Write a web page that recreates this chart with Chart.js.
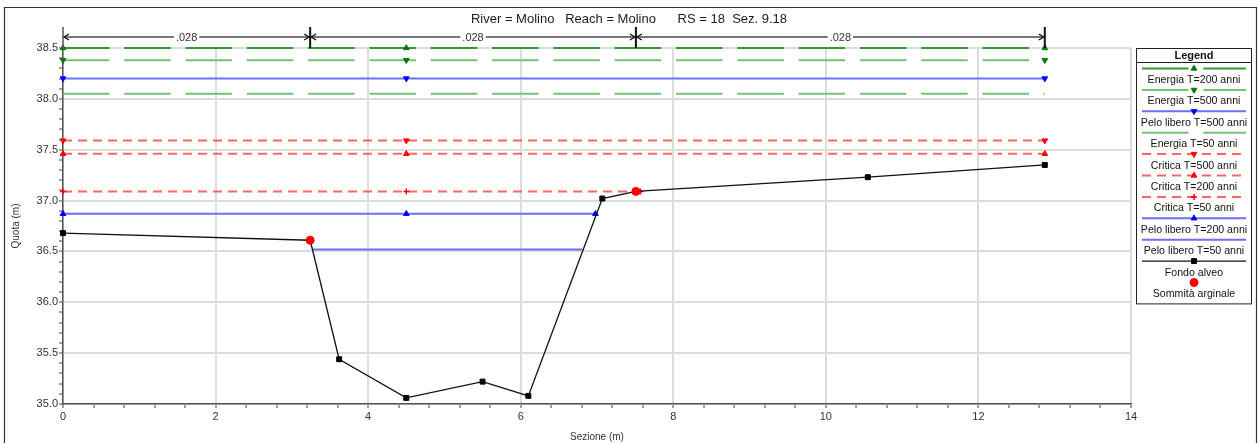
<!DOCTYPE html>
<html><head><meta charset="utf-8">
<script src="https://cdn.jsdelivr.net/npm/chart.js@4/dist/chart.umd.min.js"></script>
<style>html,body{margin:0;padding:0;background:#fff;overflow:hidden}canvas{display:block}</style>
</head><body>
<canvas id="c" width="1258" height="443" style="width:1258px;height:443px"></canvas>
<script>
// ---------- DATA ----------
const chartTitle = 'River = Molino   Reach = Molino      RS = 18  Sez. 9.18';
const xTitle = 'Sezione (m)';
const yTitle = 'Quota (m)';

// Fondo alveo (ground profile)
const groundX = [0, 3.24, 3.62, 4.50, 5.50, 6.10, 7.07, 7.51, 10.55, 12.87];
const groundY = [36.68, 36.61, 35.44, 35.06, 35.22, 35.08, 37.02, 37.09, 37.23, 37.35];
// Sommità arginale (bank tops)
const bankX = [3.24, 7.51];
const bankY = [36.61, 37.09];

// Water surface / energy lines (legend order)
const surfaceNames = ['Energia T=200 anni', 'Energia T=500 anni', 'Pelo libero T=500 anni', 'Energia T=50 anni',
  'Critica T=500 anni', 'Critica T=200 anni', 'Critica T=50 anni', 'Pelo libero T=200 anni', 'Pelo libero T=50 anni'];
const surfaceLevels = [38.50, 38.38, 38.20, 38.05, 37.59, 37.46, 37.09, 36.87, 36.52];
const surfaceStart  = [0, 0, 0, 0, 0, 0, 0, 0, 3.27];
const surfaceMid    = [4.5, 4.5, 4.5, 4.5, 4.5, 4.5, 4.5, 4.5, 4.5];
const surfaceEnd    = [12.87, 12.87, 12.87, 12.87, 12.87, 12.87, 7.57, 6.98, 6.81];

// Manning n values
const nBreaks = [0, 3.24, 7.51, 12.87];
const nValues = ['.028', '.028', '.028'];

// Axes
const xRange = [0, 14], xMinorStep = 0.4, xMajorStep = 2;
const yRange = [35, 38.5], yMinorStep = 0.1, yMajorStep = 0.5;

// ---------- STYLES ----------
const FONT = '"Liberation Sans", Arial, sans-serif';
Chart.defaults.font.family = FONT;
const DASH_E = [46.5, 14.8], DASH_C = [9, 6];
const surfaceStyles = [
  {line: '#2f9a2f', dash: DASH_E, ps: 'triangle', rot: 0,   pc: '#007a00', r: 3.3},
  {line: '#74c274', dash: DASH_E, ps: 'triangle', rot: 180, pc: '#007a00', r: 3.3},
  {line: '#6e6eff', dash: [],     ps: 'triangle', rot: 180, pc: '#0000ff', r: 3.3},
  {line: '#74c274', dash: DASH_E, ps: 'circle',   rot: 0,   pc: '#74c274', r: 0},
  {line: 'rgba(255,50,50,0.75)', dash: DASH_C, ps: 'triangle', rot: 180, pc: '#ff0000', r: 3.3},
  {line: 'rgba(255,50,50,0.75)', dash: DASH_C, ps: 'triangle', rot: 0,   pc: '#ff0000', r: 3.3},
  {line: 'rgba(255,50,50,0.75)', dash: DASH_C, ps: 'cross',    rot: 0,   pc: '#ff0000', r: 3},
  {line: '#6e6eff', dash: [],     ps: 'triangle', rot: 0,   pc: '#0000ff', r: 3.3},
  {line: '#6e6eff', dash: [],     ps: 'circle',   rot: 0,   pc: '#6e6eff', r: 0},
];

const datasets = surfaceNames.map((name, i) => {
  const s = surfaceStyles[i];
  const lv = surfaceLevels[i];
  const pts = [surfaceStart[i], surfaceMid[i], surfaceEnd[i]]
    .filter(v => v >= surfaceStart[i] && v <= surfaceEnd[i])
    .map(x => ({x: x, y: lv}));
  return {
    label: name, data: pts, borderColor: s.line, borderDash: s.dash, borderWidth: 2,
    pointStyle: s.ps, pointRotation: s.rot, pointRadius: s.r,
    pointBackgroundColor: s.pc, pointBorderColor: s.pc, pointBorderWidth: s.ps === 'cross' ? 1.5 : 1,
    tension: 0, fill: false, clip: false, order: 0
  };
});
datasets.push({
  label: 'Fondo alveo', data: groundX.map((x, i) => ({x: x, y: groundY[i]})),
  borderColor: '#111', borderWidth: 1.3, pointStyle: 'rect', pointRadius: 3.5,
  pointBackgroundColor: '#000', pointBorderColor: '#000', pointBorderWidth: 1,
  tension: 0, fill: false, clip: false, order: -1
});
datasets.push({
  label: 'Sommità arginale', data: bankX.map((x, i) => ({x: x, y: bankY[i]})),
  showLine: false, borderColor: '#ff0000', pointStyle: 'circle', pointRadius: 4,
  pointBackgroundColor: '#ff0000', pointBorderColor: '#ff0000', pointBorderWidth: 1,
  clip: false, order: -2
});

const isMult = (v, m) => v != null && Math.abs(v / m - Math.round(v / m)) < 1e-6;

function drawMarker(ctx, ps, r, rot, x, y, color, bw) {
  if (!r) return;
  ctx.save();
  ctx.fillStyle = color; ctx.strokeStyle = color; ctx.lineWidth = bw || 1; ctx.setLineDash([]);
  ctx.beginPath();
  if (ps === 'triangle') {
    let rad = rot * Math.PI / 180;
    ctx.moveTo(x + Math.sin(rad) * r, y - Math.cos(rad) * r);
    rad += 2 * Math.PI / 3; ctx.lineTo(x + Math.sin(rad) * r, y - Math.cos(rad) * r);
    rad += 2 * Math.PI / 3; ctx.lineTo(x + Math.sin(rad) * r, y - Math.cos(rad) * r);
    ctx.closePath(); ctx.fill(); ctx.stroke();
  } else if (ps === 'rect') {
    const s = r * Math.SQRT1_2; ctx.rect(x - s, y - s, 2 * s, 2 * s); ctx.fill(); ctx.stroke();
  } else if (ps === 'cross') {
    ctx.moveTo(x - r, y); ctx.lineTo(x + r, y); ctx.moveTo(x, y - r); ctx.lineTo(x, y + r); ctx.stroke();
  } else {
    ctx.arc(x, y, r, 0, Math.PI * 2); ctx.fill(); ctx.stroke();
  }
  ctx.restore();
}

const decor = {
  id: 'decor',
  beforeDraw(chart) {
    const ctx = chart.ctx;
    ctx.save(); ctx.fillStyle = '#fff'; ctx.fillRect(0, 0, chart.width, chart.height); ctx.restore();
  },
  afterDraw(chart) {
    const ctx = chart.ctx, a = chart.chartArea, xs = chart.scales.x;
    ctx.save();
    // outer frame
    ctx.strokeStyle = '#333'; ctx.lineWidth = 1.2; ctx.setLineDash([]);
    ctx.beginPath(); ctx.moveTo(4.5, chart.height + 5); ctx.lineTo(4.5, 7.5);
    ctx.lineTo(chart.width - 1.5, 7.5); ctx.lineTo(chart.width - 1.5, chart.height + 5); ctx.stroke();
    // title
    ctx.fillStyle = '#1a1a1a'; ctx.font = '13px ' + FONT; ctx.textAlign = 'center'; ctx.textBaseline = 'middle';
    ctx.fillText(chartTitle, chart.width / 2, 19.5);

    // Manning n annotation
    const yA = a.top - 11, yT = a.top - 21;
    ctx.font = '11px ' + FONT;
    for (let i = 0; i < nValues.length; i++) {
      const p0 = xs.getPixelForValue(nBreaks[i]), p1 = xs.getPixelForValue(nBreaks[i + 1]);
      ctx.strokeStyle = '#777'; ctx.lineWidth = 2;
      ctx.beginPath(); ctx.moveTo(p0, yA); ctx.lineTo(p1, yA); ctx.stroke();
      ctx.strokeStyle = '#111'; ctx.lineWidth = 1.3;
      ctx.beginPath();
      ctx.moveTo(p0 + 6, yA - 3); ctx.lineTo(p0 + 1, yA); ctx.lineTo(p0 + 6, yA + 3);
      ctx.moveTo(p1 - 6, yA - 3); ctx.lineTo(p1 - 1, yA); ctx.lineTo(p1 - 6, yA + 3);
      ctx.stroke();
      const mid = (p0 + p1) / 2, w = ctx.measureText(nValues[i]).width;
      ctx.fillStyle = '#fff'; ctx.fillRect(mid - w / 2 - 2, yA - 6, w + 4, 12);
      ctx.fillStyle = '#333'; ctx.fillText(nValues[i], mid, yA + 0.5);
    }
    nBreaks.forEach((b, i) => {
      const p = xs.getPixelForValue(b);
      ctx.strokeStyle = i === 0 ? '#555' : '#111'; ctx.lineWidth = i === 0 ? 1.5 : 2;
      ctx.beginPath(); ctx.moveTo(p, yT); ctx.lineTo(p, a.top); ctx.stroke();
    });

    // Legend
    const L = a.right + 5, R = chart.width - 6, T = a.top, rowH = 21.4;
    const B = T + 14 + rowH * chart.data.datasets.length + 7;
    ctx.fillStyle = '#fff'; ctx.fillRect(L, T, R - L, B - T);
    ctx.strokeStyle = '#222'; ctx.lineWidth = 1;
    ctx.strokeRect(L + 0.5, T + 0.5, R - L - 1, B - T - 1);
    ctx.beginPath(); ctx.moveTo(L, T + 14.5); ctx.lineTo(R, T + 14.5); ctx.stroke();
    const cx = (L + R) / 2;
    ctx.fillStyle = '#111'; ctx.font = 'bold 11px ' + FONT;
    ctx.fillText('Legend', cx, T + 7.5);
    ctx.font = '10.6px ' + FONT;
    chart.data.datasets.forEach((d, i) => {
      const ys = T + 20.5 + i * rowH, yl = T + 32 + i * rowH;
      if (d.showLine !== false) {
        ctx.save();
        ctx.strokeStyle = d.borderColor; ctx.lineWidth = d.borderWidth || 1;
        ctx.setLineDash(d.borderDash || []);
        ctx.beginPath(); ctx.moveTo(L + 6, ys); ctx.lineTo(R - 6, ys); ctx.stroke();
        ctx.restore();
      }
      drawMarker(ctx, d.pointStyle, d.pointRadius, d.pointRotation || 0, cx, ys, d.pointBackgroundColor, d.pointBorderWidth);
      ctx.fillStyle = '#111';
      ctx.fillText(d.label, cx, yl);
    });
    ctx.restore();
  }
};

const tickFont = {size: 11, family: FONT};
new Chart(document.getElementById('c'), {
  type: 'line',
  data: {datasets: datasets},
  options: {
    responsive: false, devicePixelRatio: 1, animation: false, events: [],
    layout: {padding: {top: 48, right: 127, left: 0, bottom: 0}},
    plugins: {legend: {display: false}, tooltip: {enabled: false}, title: {display: false}},
    scales: {
      x: {
        type: 'linear', min: xRange[0], max: xRange[1],
        ticks: {stepSize: xMinorStep, autoSkip: false, maxRotation: 0, minRotation: 0, color: '#333', font: tickFont, padding: 2,
          callback: v => isMult(v, xMajorStep) ? String(Math.round(v)) : ''},
        grid: {color: c => (c.tick && isMult(c.tick.value, xMajorStep)) ? '#dcdcdc' : 'rgba(0,0,0,0)',
          lineWidth: 2, tickColor: '#444', tickWidth: 1, tickLength: 4, drawTicks: true},
        border: {color: '#555', width: 1.5},
        title: {display: true, text: xTitle, color: '#333', font: {size: 10, family: FONT}, padding: {top: 0, bottom: 0}},
        afterFit: s => { s.height = 39; }
      },
      y: {
        type: 'linear', min: yRange[0], max: yRange[1],
        ticks: {stepSize: yMinorStep, autoSkip: false, color: '#333', font: tickFont, padding: 1,
          callback: v => isMult(v, yMajorStep) ? Number(v).toFixed(1) : ''},
        grid: {color: c => (c.tick && isMult(c.tick.value, yMajorStep)) ? '#dcdcdc' : 'rgba(0,0,0,0)',
          lineWidth: 2, tickColor: '#444', tickWidth: 1, tickLength: 4, drawTicks: true},
        border: {color: '#555', width: 1.5},
        title: {display: true, text: yTitle, color: '#333', font: {size: 10, family: FONT}, padding: {top: 10, bottom: 0}},
        afterFit: s => { s.width = 63; }
      }
    }
  },
  plugins: [decor]
});
</script>
</body></html>
